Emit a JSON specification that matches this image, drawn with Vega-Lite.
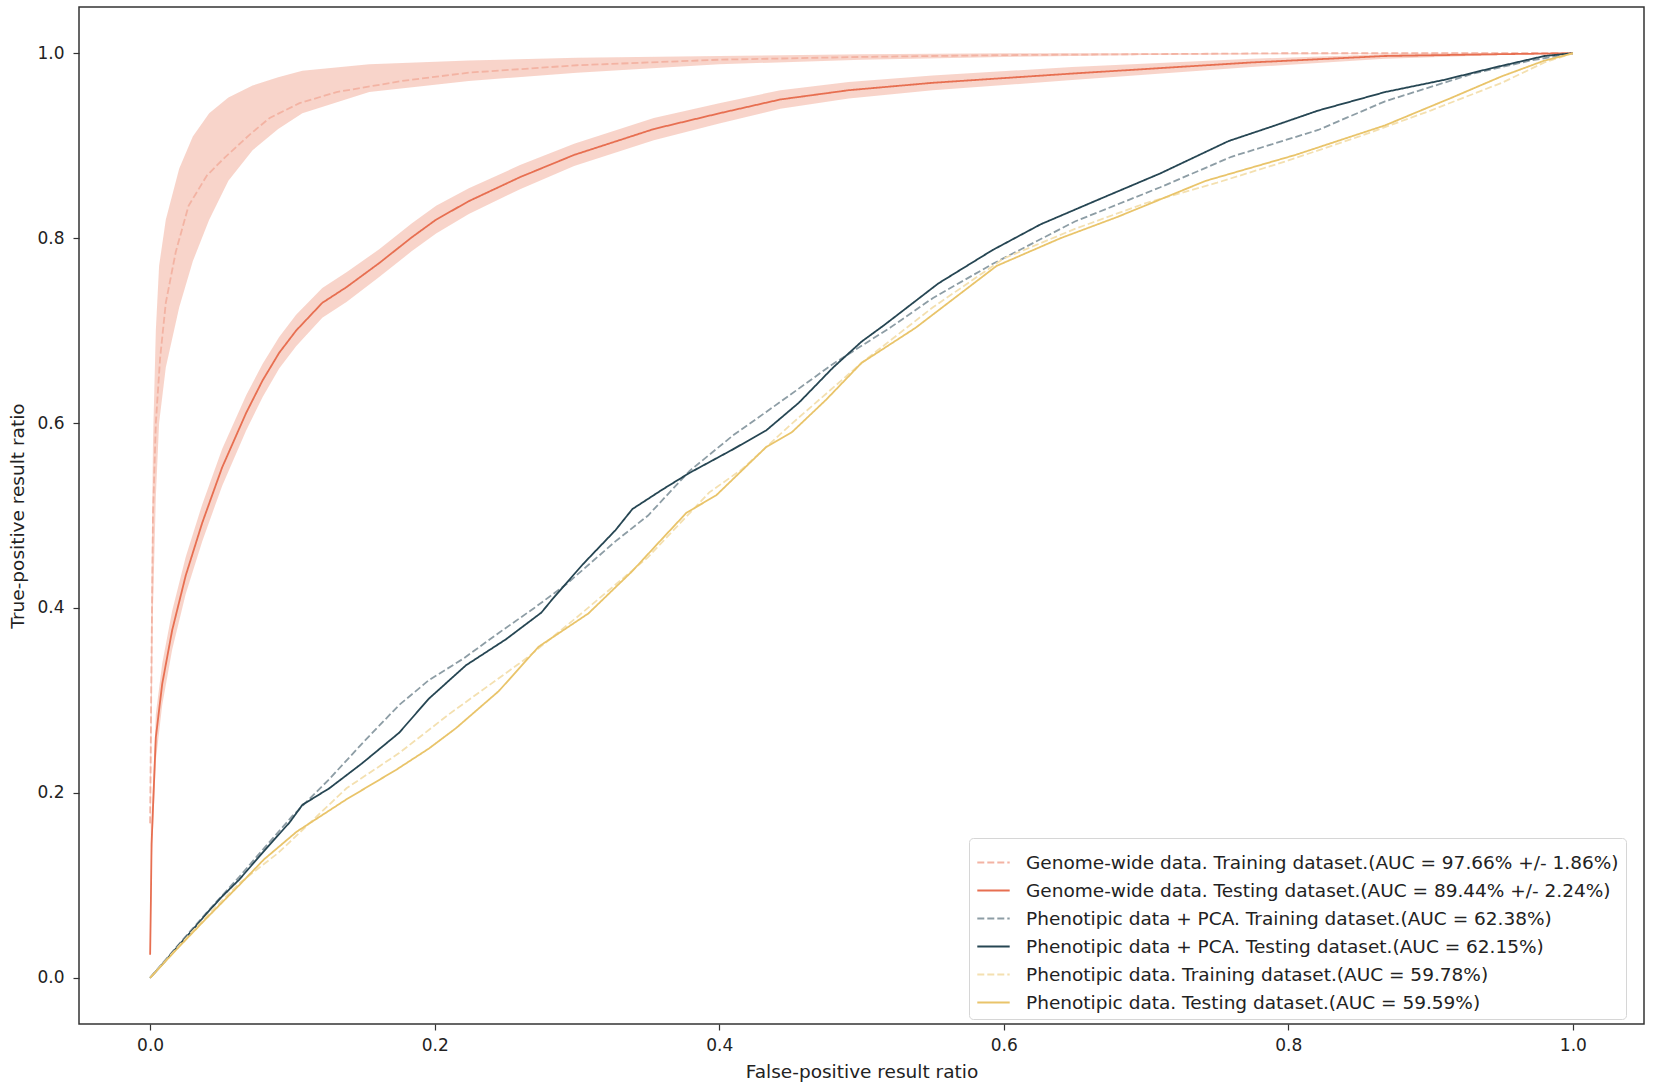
{
  "$schema": "https://vega.github.io/schema/vega-lite/v6.json",
  "width": 1565,
  "height": 1017,
  "autosize": {"type": "none"},
  "padding": {"left": 79, "top": 7, "right": 10, "bottom": 65},
  "background": "white",
  "datasets": {
    "band": [
      {"model": "train", "fpr": 0, "lo": 0.14, "hi": 0.2},
      {"model": "train", "fpr": 0.001, "lo": 0.27, "hi": 0.43},
      {"model": "train", "fpr": 0.002, "lo": 0.4, "hi": 0.58},
      {"model": "train", "fpr": 0.004, "lo": 0.52, "hi": 0.7},
      {"model": "train", "fpr": 0.0063, "lo": 0.6, "hi": 0.77},
      {"model": "train", "fpr": 0.011, "lo": 0.66, "hi": 0.82},
      {"model": "train", "fpr": 0.0204, "lo": 0.725, "hi": 0.875},
      {"model": "train", "fpr": 0.03, "lo": 0.775, "hi": 0.91},
      {"model": "train", "fpr": 0.0415, "lo": 0.82, "hi": 0.935},
      {"model": "train", "fpr": 0.055, "lo": 0.862, "hi": 0.952},
      {"model": "train", "fpr": 0.072, "lo": 0.895, "hi": 0.965},
      {"model": "train", "fpr": 0.09, "lo": 0.918, "hi": 0.974},
      {"model": "train", "fpr": 0.107, "lo": 0.935, "hi": 0.981},
      {"model": "train", "fpr": 0.154, "lo": 0.958, "hi": 0.988},
      {"model": "train", "fpr": 0.224, "lo": 0.97, "hi": 0.992},
      {"model": "train", "fpr": 0.3, "lo": 0.979, "hi": 0.995},
      {"model": "train", "fpr": 0.4, "lo": 0.988, "hi": 0.997},
      {"model": "train", "fpr": 0.5, "lo": 0.993, "hi": 0.999},
      {"model": "train", "fpr": 0.6, "lo": 0.996, "hi": 1},
      {"model": "train", "fpr": 0.7, "lo": 0.998, "hi": 1},
      {"model": "train", "fpr": 0.8, "lo": 0.999, "hi": 1},
      {"model": "train", "fpr": 1, "lo": 1, "hi": 1},
      {"model": "test", "fpr": 0, "lo": 0.02, "hi": 0.03},
      {"model": "test", "fpr": 0.0005, "lo": 0.06, "hi": 0.1},
      {"model": "test", "fpr": 0.001, "lo": 0.12, "hi": 0.17},
      {"model": "test", "fpr": 0.004, "lo": 0.235, "hi": 0.285},
      {"model": "test", "fpr": 0.0085, "lo": 0.295, "hi": 0.34},
      {"model": "test", "fpr": 0.0155, "lo": 0.355, "hi": 0.397},
      {"model": "test", "fpr": 0.025, "lo": 0.415, "hi": 0.455},
      {"model": "test", "fpr": 0.0366, "lo": 0.472, "hi": 0.512},
      {"model": "test", "fpr": 0.0506, "lo": 0.532, "hi": 0.572},
      {"model": "test", "fpr": 0.0675, "lo": 0.592, "hi": 0.63},
      {"model": "test", "fpr": 0.079, "lo": 0.628, "hi": 0.664},
      {"model": "test", "fpr": 0.0907, "lo": 0.659, "hi": 0.693},
      {"model": "test", "fpr": 0.1026, "lo": 0.683, "hi": 0.717},
      {"model": "test", "fpr": 0.121, "lo": 0.714, "hi": 0.746},
      {"model": "test", "fpr": 0.138, "lo": 0.731, "hi": 0.763},
      {"model": "test", "fpr": 0.161, "lo": 0.758, "hi": 0.788},
      {"model": "test", "fpr": 0.184, "lo": 0.786, "hi": 0.816},
      {"model": "test", "fpr": 0.201, "lo": 0.805, "hi": 0.835},
      {"model": "test", "fpr": 0.224, "lo": 0.826, "hi": 0.854},
      {"model": "test", "fpr": 0.26, "lo": 0.853, "hi": 0.879},
      {"model": "test", "fpr": 0.298, "lo": 0.878, "hi": 0.902},
      {"model": "test", "fpr": 0.354, "lo": 0.906, "hi": 0.93},
      {"model": "test", "fpr": 0.4, "lo": 0.924, "hi": 0.946},
      {"model": "test", "fpr": 0.443, "lo": 0.94, "hi": 0.96},
      {"model": "test", "fpr": 0.491, "lo": 0.951, "hi": 0.969},
      {"model": "test", "fpr": 0.55, "lo": 0.96, "hi": 0.976},
      {"model": "test", "fpr": 0.648, "lo": 0.971, "hi": 0.985},
      {"model": "test", "fpr": 0.774, "lo": 0.985, "hi": 0.994},
      {"model": "test", "fpr": 0.868, "lo": 0.994, "hi": 0.999},
      {"model": "test", "fpr": 0.95, "lo": 0.998, "hi": 1},
      {"model": "test", "fpr": 1, "lo": 1, "hi": 1}
    ],
    "roc": [
      {"model": "Genome-wide data. Training dataset.(AUC = 97.66% +/- 1.86%)", "fpr": 0, "tpr": 0.167},
      {"model": "Genome-wide data. Training dataset.(AUC = 97.66% +/- 1.86%)", "fpr": 0.001, "tpr": 0.35},
      {"model": "Genome-wide data. Training dataset.(AUC = 97.66% +/- 1.86%)", "fpr": 0.002, "tpr": 0.5},
      {"model": "Genome-wide data. Training dataset.(AUC = 97.66% +/- 1.86%)", "fpr": 0.004, "tpr": 0.6},
      {"model": "Genome-wide data. Training dataset.(AUC = 97.66% +/- 1.86%)", "fpr": 0.007, "tpr": 0.67},
      {"model": "Genome-wide data. Training dataset.(AUC = 97.66% +/- 1.86%)", "fpr": 0.011, "tpr": 0.73},
      {"model": "Genome-wide data. Training dataset.(AUC = 97.66% +/- 1.86%)", "fpr": 0.018, "tpr": 0.785},
      {"model": "Genome-wide data. Training dataset.(AUC = 97.66% +/- 1.86%)", "fpr": 0.027, "tpr": 0.835},
      {"model": "Genome-wide data. Training dataset.(AUC = 97.66% +/- 1.86%)", "fpr": 0.04, "tpr": 0.868},
      {"model": "Genome-wide data. Training dataset.(AUC = 97.66% +/- 1.86%)", "fpr": 0.053, "tpr": 0.888},
      {"model": "Genome-wide data. Training dataset.(AUC = 97.66% +/- 1.86%)", "fpr": 0.07, "tpr": 0.912},
      {"model": "Genome-wide data. Training dataset.(AUC = 97.66% +/- 1.86%)", "fpr": 0.084, "tpr": 0.93},
      {"model": "Genome-wide data. Training dataset.(AUC = 97.66% +/- 1.86%)", "fpr": 0.105, "tpr": 0.946},
      {"model": "Genome-wide data. Training dataset.(AUC = 97.66% +/- 1.86%)", "fpr": 0.131, "tpr": 0.958},
      {"model": "Genome-wide data. Training dataset.(AUC = 97.66% +/- 1.86%)", "fpr": 0.177, "tpr": 0.97},
      {"model": "Genome-wide data. Training dataset.(AUC = 97.66% +/- 1.86%)", "fpr": 0.224, "tpr": 0.979},
      {"model": "Genome-wide data. Training dataset.(AUC = 97.66% +/- 1.86%)", "fpr": 0.3, "tpr": 0.987},
      {"model": "Genome-wide data. Training dataset.(AUC = 97.66% +/- 1.86%)", "fpr": 0.4, "tpr": 0.993},
      {"model": "Genome-wide data. Training dataset.(AUC = 97.66% +/- 1.86%)", "fpr": 0.5, "tpr": 0.996},
      {"model": "Genome-wide data. Training dataset.(AUC = 97.66% +/- 1.86%)", "fpr": 0.6, "tpr": 0.998},
      {"model": "Genome-wide data. Training dataset.(AUC = 97.66% +/- 1.86%)", "fpr": 0.7, "tpr": 0.999},
      {"model": "Genome-wide data. Training dataset.(AUC = 97.66% +/- 1.86%)", "fpr": 0.8, "tpr": 1},
      {"model": "Genome-wide data. Training dataset.(AUC = 97.66% +/- 1.86%)", "fpr": 1, "tpr": 1},

      {"model": "Genome-wide data. Testing dataset.(AUC = 89.44% +/- 2.24%)", "fpr": 0, "tpr": 0.025},
      {"model": "Genome-wide data. Testing dataset.(AUC = 89.44% +/- 2.24%)", "fpr": 0.0005, "tpr": 0.08},
      {"model": "Genome-wide data. Testing dataset.(AUC = 89.44% +/- 2.24%)", "fpr": 0.001, "tpr": 0.145},
      {"model": "Genome-wide data. Testing dataset.(AUC = 89.44% +/- 2.24%)", "fpr": 0.004, "tpr": 0.26},
      {"model": "Genome-wide data. Testing dataset.(AUC = 89.44% +/- 2.24%)", "fpr": 0.0085, "tpr": 0.318},
      {"model": "Genome-wide data. Testing dataset.(AUC = 89.44% +/- 2.24%)", "fpr": 0.0155, "tpr": 0.376},
      {"model": "Genome-wide data. Testing dataset.(AUC = 89.44% +/- 2.24%)", "fpr": 0.025, "tpr": 0.435},
      {"model": "Genome-wide data. Testing dataset.(AUC = 89.44% +/- 2.24%)", "fpr": 0.0366, "tpr": 0.492},
      {"model": "Genome-wide data. Testing dataset.(AUC = 89.44% +/- 2.24%)", "fpr": 0.0506, "tpr": 0.552},
      {"model": "Genome-wide data. Testing dataset.(AUC = 89.44% +/- 2.24%)", "fpr": 0.0675, "tpr": 0.611},
      {"model": "Genome-wide data. Testing dataset.(AUC = 89.44% +/- 2.24%)", "fpr": 0.079, "tpr": 0.646},
      {"model": "Genome-wide data. Testing dataset.(AUC = 89.44% +/- 2.24%)", "fpr": 0.0907, "tpr": 0.676},
      {"model": "Genome-wide data. Testing dataset.(AUC = 89.44% +/- 2.24%)", "fpr": 0.1026, "tpr": 0.7},
      {"model": "Genome-wide data. Testing dataset.(AUC = 89.44% +/- 2.24%)", "fpr": 0.121, "tpr": 0.73},
      {"model": "Genome-wide data. Testing dataset.(AUC = 89.44% +/- 2.24%)", "fpr": 0.138, "tpr": 0.747},
      {"model": "Genome-wide data. Testing dataset.(AUC = 89.44% +/- 2.24%)", "fpr": 0.161, "tpr": 0.773},
      {"model": "Genome-wide data. Testing dataset.(AUC = 89.44% +/- 2.24%)", "fpr": 0.184, "tpr": 0.801},
      {"model": "Genome-wide data. Testing dataset.(AUC = 89.44% +/- 2.24%)", "fpr": 0.201, "tpr": 0.82},
      {"model": "Genome-wide data. Testing dataset.(AUC = 89.44% +/- 2.24%)", "fpr": 0.224, "tpr": 0.84},
      {"model": "Genome-wide data. Testing dataset.(AUC = 89.44% +/- 2.24%)", "fpr": 0.26, "tpr": 0.866},
      {"model": "Genome-wide data. Testing dataset.(AUC = 89.44% +/- 2.24%)", "fpr": 0.298, "tpr": 0.89},
      {"model": "Genome-wide data. Testing dataset.(AUC = 89.44% +/- 2.24%)", "fpr": 0.354, "tpr": 0.918},
      {"model": "Genome-wide data. Testing dataset.(AUC = 89.44% +/- 2.24%)", "fpr": 0.4, "tpr": 0.935},
      {"model": "Genome-wide data. Testing dataset.(AUC = 89.44% +/- 2.24%)", "fpr": 0.443, "tpr": 0.95},
      {"model": "Genome-wide data. Testing dataset.(AUC = 89.44% +/- 2.24%)", "fpr": 0.491, "tpr": 0.96},
      {"model": "Genome-wide data. Testing dataset.(AUC = 89.44% +/- 2.24%)", "fpr": 0.55, "tpr": 0.968},
      {"model": "Genome-wide data. Testing dataset.(AUC = 89.44% +/- 2.24%)", "fpr": 0.648, "tpr": 0.978},
      {"model": "Genome-wide data. Testing dataset.(AUC = 89.44% +/- 2.24%)", "fpr": 0.774, "tpr": 0.99},
      {"model": "Genome-wide data. Testing dataset.(AUC = 89.44% +/- 2.24%)", "fpr": 0.868, "tpr": 0.997},
      {"model": "Genome-wide data. Testing dataset.(AUC = 89.44% +/- 2.24%)", "fpr": 0.95, "tpr": 0.999},
      {"model": "Genome-wide data. Testing dataset.(AUC = 89.44% +/- 2.24%)", "fpr": 1, "tpr": 1},

      {"model": "Phenotipic data + PCA. Training dataset.(AUC = 62.38%)", "fpr": 0, "tpr": 0},
      {"model": "Phenotipic data + PCA. Training dataset.(AUC = 62.38%)", "fpr": 0.02, "tpr": 0.036},
      {"model": "Phenotipic data + PCA. Training dataset.(AUC = 62.38%)", "fpr": 0.04, "tpr": 0.071},
      {"model": "Phenotipic data + PCA. Training dataset.(AUC = 62.38%)", "fpr": 0.0625, "tpr": 0.109},
      {"model": "Phenotipic data + PCA. Training dataset.(AUC = 62.38%)", "fpr": 0.08, "tpr": 0.14},
      {"model": "Phenotipic data + PCA. Training dataset.(AUC = 62.38%)", "fpr": 0.1, "tpr": 0.175},
      {"model": "Phenotipic data + PCA. Training dataset.(AUC = 62.38%)", "fpr": 0.126, "tpr": 0.215},
      {"model": "Phenotipic data + PCA. Training dataset.(AUC = 62.38%)", "fpr": 0.15, "tpr": 0.255},
      {"model": "Phenotipic data + PCA. Training dataset.(AUC = 62.38%)", "fpr": 0.175, "tpr": 0.295},
      {"model": "Phenotipic data + PCA. Training dataset.(AUC = 62.38%)", "fpr": 0.196, "tpr": 0.322},
      {"model": "Phenotipic data + PCA. Training dataset.(AUC = 62.38%)", "fpr": 0.22, "tpr": 0.345},
      {"model": "Phenotipic data + PCA. Training dataset.(AUC = 62.38%)", "fpr": 0.245, "tpr": 0.373},
      {"model": "Phenotipic data + PCA. Training dataset.(AUC = 62.38%)", "fpr": 0.27, "tpr": 0.4},
      {"model": "Phenotipic data + PCA. Training dataset.(AUC = 62.38%)", "fpr": 0.292, "tpr": 0.425},
      {"model": "Phenotipic data + PCA. Training dataset.(AUC = 62.38%)", "fpr": 0.327, "tpr": 0.472},
      {"model": "Phenotipic data + PCA. Training dataset.(AUC = 62.38%)", "fpr": 0.35, "tpr": 0.5},
      {"model": "Phenotipic data + PCA. Training dataset.(AUC = 62.38%)", "fpr": 0.379, "tpr": 0.548},
      {"model": "Phenotipic data + PCA. Training dataset.(AUC = 62.38%)", "fpr": 0.41, "tpr": 0.587},
      {"model": "Phenotipic data + PCA. Training dataset.(AUC = 62.38%)", "fpr": 0.444, "tpr": 0.624},
      {"model": "Phenotipic data + PCA. Training dataset.(AUC = 62.38%)", "fpr": 0.48, "tpr": 0.664},
      {"model": "Phenotipic data + PCA. Training dataset.(AUC = 62.38%)", "fpr": 0.52, "tpr": 0.703},
      {"model": "Phenotipic data + PCA. Training dataset.(AUC = 62.38%)", "fpr": 0.55, "tpr": 0.735},
      {"model": "Phenotipic data + PCA. Training dataset.(AUC = 62.38%)", "fpr": 0.592, "tpr": 0.772},
      {"model": "Phenotipic data + PCA. Training dataset.(AUC = 62.38%)", "fpr": 0.65, "tpr": 0.818},
      {"model": "Phenotipic data + PCA. Training dataset.(AUC = 62.38%)", "fpr": 0.71, "tpr": 0.855},
      {"model": "Phenotipic data + PCA. Training dataset.(AUC = 62.38%)", "fpr": 0.76, "tpr": 0.888},
      {"model": "Phenotipic data + PCA. Training dataset.(AUC = 62.38%)", "fpr": 0.821, "tpr": 0.917},
      {"model": "Phenotipic data + PCA. Training dataset.(AUC = 62.38%)", "fpr": 0.868, "tpr": 0.948},
      {"model": "Phenotipic data + PCA. Training dataset.(AUC = 62.38%)", "fpr": 0.93, "tpr": 0.978},
      {"model": "Phenotipic data + PCA. Training dataset.(AUC = 62.38%)", "fpr": 0.97, "tpr": 0.992},
      {"model": "Phenotipic data + PCA. Training dataset.(AUC = 62.38%)", "fpr": 1, "tpr": 1},

      {"model": "Phenotipic data + PCA. Testing dataset.(AUC = 62.15%)", "fpr": 0, "tpr": 0},
      {"model": "Phenotipic data + PCA. Testing dataset.(AUC = 62.15%)", "fpr": 0.01, "tpr": 0.017},
      {"model": "Phenotipic data + PCA. Testing dataset.(AUC = 62.15%)", "fpr": 0.02, "tpr": 0.035},
      {"model": "Phenotipic data + PCA. Testing dataset.(AUC = 62.15%)", "fpr": 0.03, "tpr": 0.052},
      {"model": "Phenotipic data + PCA. Testing dataset.(AUC = 62.15%)", "fpr": 0.04, "tpr": 0.07},
      {"model": "Phenotipic data + PCA. Testing dataset.(AUC = 62.15%)", "fpr": 0.05, "tpr": 0.087},
      {"model": "Phenotipic data + PCA. Testing dataset.(AUC = 62.15%)", "fpr": 0.0625, "tpr": 0.106},
      {"model": "Phenotipic data + PCA. Testing dataset.(AUC = 62.15%)", "fpr": 0.08, "tpr": 0.137},
      {"model": "Phenotipic data + PCA. Testing dataset.(AUC = 62.15%)", "fpr": 0.098, "tpr": 0.168},
      {"model": "Phenotipic data + PCA. Testing dataset.(AUC = 62.15%)", "fpr": 0.107, "tpr": 0.187},
      {"model": "Phenotipic data + PCA. Testing dataset.(AUC = 62.15%)", "fpr": 0.126, "tpr": 0.205},
      {"model": "Phenotipic data + PCA. Testing dataset.(AUC = 62.15%)", "fpr": 0.149, "tpr": 0.232},
      {"model": "Phenotipic data + PCA. Testing dataset.(AUC = 62.15%)", "fpr": 0.175, "tpr": 0.265},
      {"model": "Phenotipic data + PCA. Testing dataset.(AUC = 62.15%)", "fpr": 0.196, "tpr": 0.302},
      {"model": "Phenotipic data + PCA. Testing dataset.(AUC = 62.15%)", "fpr": 0.222, "tpr": 0.338},
      {"model": "Phenotipic data + PCA. Testing dataset.(AUC = 62.15%)", "fpr": 0.25, "tpr": 0.366},
      {"model": "Phenotipic data + PCA. Testing dataset.(AUC = 62.15%)", "fpr": 0.275, "tpr": 0.395},
      {"model": "Phenotipic data + PCA. Testing dataset.(AUC = 62.15%)", "fpr": 0.283, "tpr": 0.41},
      {"model": "Phenotipic data + PCA. Testing dataset.(AUC = 62.15%)", "fpr": 0.304, "tpr": 0.447},
      {"model": "Phenotipic data + PCA. Testing dataset.(AUC = 62.15%)", "fpr": 0.327, "tpr": 0.484},
      {"model": "Phenotipic data + PCA. Testing dataset.(AUC = 62.15%)", "fpr": 0.339, "tpr": 0.507},
      {"model": "Phenotipic data + PCA. Testing dataset.(AUC = 62.15%)", "fpr": 0.36, "tpr": 0.528},
      {"model": "Phenotipic data + PCA. Testing dataset.(AUC = 62.15%)", "fpr": 0.379, "tpr": 0.546},
      {"model": "Phenotipic data + PCA. Testing dataset.(AUC = 62.15%)", "fpr": 0.409, "tpr": 0.571},
      {"model": "Phenotipic data + PCA. Testing dataset.(AUC = 62.15%)", "fpr": 0.433, "tpr": 0.592},
      {"model": "Phenotipic data + PCA. Testing dataset.(AUC = 62.15%)", "fpr": 0.456, "tpr": 0.622},
      {"model": "Phenotipic data + PCA. Testing dataset.(AUC = 62.15%)", "fpr": 0.48, "tpr": 0.66},
      {"model": "Phenotipic data + PCA. Testing dataset.(AUC = 62.15%)", "fpr": 0.5, "tpr": 0.688},
      {"model": "Phenotipic data + PCA. Testing dataset.(AUC = 62.15%)", "fpr": 0.516, "tpr": 0.706},
      {"model": "Phenotipic data + PCA. Testing dataset.(AUC = 62.15%)", "fpr": 0.554, "tpr": 0.751},
      {"model": "Phenotipic data + PCA. Testing dataset.(AUC = 62.15%)", "fpr": 0.592, "tpr": 0.787},
      {"model": "Phenotipic data + PCA. Testing dataset.(AUC = 62.15%)", "fpr": 0.626, "tpr": 0.815},
      {"model": "Phenotipic data + PCA. Testing dataset.(AUC = 62.15%)", "fpr": 0.667, "tpr": 0.842},
      {"model": "Phenotipic data + PCA. Testing dataset.(AUC = 62.15%)", "fpr": 0.71, "tpr": 0.87},
      {"model": "Phenotipic data + PCA. Testing dataset.(AUC = 62.15%)", "fpr": 0.758, "tpr": 0.905},
      {"model": "Phenotipic data + PCA. Testing dataset.(AUC = 62.15%)", "fpr": 0.789, "tpr": 0.921},
      {"model": "Phenotipic data + PCA. Testing dataset.(AUC = 62.15%)", "fpr": 0.821, "tpr": 0.938},
      {"model": "Phenotipic data + PCA. Testing dataset.(AUC = 62.15%)", "fpr": 0.868, "tpr": 0.958},
      {"model": "Phenotipic data + PCA. Testing dataset.(AUC = 62.15%)", "fpr": 0.909, "tpr": 0.971},
      {"model": "Phenotipic data + PCA. Testing dataset.(AUC = 62.15%)", "fpr": 0.946, "tpr": 0.985},
      {"model": "Phenotipic data + PCA. Testing dataset.(AUC = 62.15%)", "fpr": 0.98, "tpr": 0.997},
      {"model": "Phenotipic data + PCA. Testing dataset.(AUC = 62.15%)", "fpr": 1, "tpr": 1},

      {"model": "Phenotipic data. Training dataset.(AUC = 59.78%)", "fpr": 0, "tpr": 0},
      {"model": "Phenotipic data. Training dataset.(AUC = 59.78%)", "fpr": 0.02, "tpr": 0.034},
      {"model": "Phenotipic data. Training dataset.(AUC = 59.78%)", "fpr": 0.04, "tpr": 0.067},
      {"model": "Phenotipic data. Training dataset.(AUC = 59.78%)", "fpr": 0.0625, "tpr": 0.102},
      {"model": "Phenotipic data. Training dataset.(AUC = 59.78%)", "fpr": 0.09, "tpr": 0.135},
      {"model": "Phenotipic data. Training dataset.(AUC = 59.78%)", "fpr": 0.138, "tpr": 0.205},
      {"model": "Phenotipic data. Training dataset.(AUC = 59.78%)", "fpr": 0.175, "tpr": 0.243},
      {"model": "Phenotipic data. Training dataset.(AUC = 59.78%)", "fpr": 0.21, "tpr": 0.285},
      {"model": "Phenotipic data. Training dataset.(AUC = 59.78%)", "fpr": 0.264, "tpr": 0.345},
      {"model": "Phenotipic data. Training dataset.(AUC = 59.78%)", "fpr": 0.3, "tpr": 0.39},
      {"model": "Phenotipic data. Training dataset.(AUC = 59.78%)", "fpr": 0.35, "tpr": 0.455},
      {"model": "Phenotipic data. Training dataset.(AUC = 59.78%)", "fpr": 0.393, "tpr": 0.525},
      {"model": "Phenotipic data. Training dataset.(AUC = 59.78%)", "fpr": 0.416, "tpr": 0.55},
      {"model": "Phenotipic data. Training dataset.(AUC = 59.78%)", "fpr": 0.45, "tpr": 0.598},
      {"model": "Phenotipic data. Training dataset.(AUC = 59.78%)", "fpr": 0.5, "tpr": 0.665},
      {"model": "Phenotipic data. Training dataset.(AUC = 59.78%)", "fpr": 0.55, "tpr": 0.725},
      {"model": "Phenotipic data. Training dataset.(AUC = 59.78%)", "fpr": 0.6, "tpr": 0.778},
      {"model": "Phenotipic data. Training dataset.(AUC = 59.78%)", "fpr": 0.65, "tpr": 0.81},
      {"model": "Phenotipic data. Training dataset.(AUC = 59.78%)", "fpr": 0.7, "tpr": 0.838},
      {"model": "Phenotipic data. Training dataset.(AUC = 59.78%)", "fpr": 0.75, "tpr": 0.86},
      {"model": "Phenotipic data. Training dataset.(AUC = 59.78%)", "fpr": 0.8, "tpr": 0.884},
      {"model": "Phenotipic data. Training dataset.(AUC = 59.78%)", "fpr": 0.85, "tpr": 0.91},
      {"model": "Phenotipic data. Training dataset.(AUC = 59.78%)", "fpr": 0.9, "tpr": 0.938},
      {"model": "Phenotipic data. Training dataset.(AUC = 59.78%)", "fpr": 0.95, "tpr": 0.968},
      {"model": "Phenotipic data. Training dataset.(AUC = 59.78%)", "fpr": 0.98, "tpr": 0.99},
      {"model": "Phenotipic data. Training dataset.(AUC = 59.78%)", "fpr": 1, "tpr": 1},

      {"model": "Phenotipic data. Testing dataset.(AUC = 59.59%)", "fpr": 0, "tpr": 0},
      {"model": "Phenotipic data. Testing dataset.(AUC = 59.59%)", "fpr": 0.02, "tpr": 0.033},
      {"model": "Phenotipic data. Testing dataset.(AUC = 59.59%)", "fpr": 0.04, "tpr": 0.065},
      {"model": "Phenotipic data. Testing dataset.(AUC = 59.59%)", "fpr": 0.0625, "tpr": 0.1},
      {"model": "Phenotipic data. Testing dataset.(AUC = 59.59%)", "fpr": 0.08, "tpr": 0.128},
      {"model": "Phenotipic data. Testing dataset.(AUC = 59.59%)", "fpr": 0.103, "tpr": 0.158},
      {"model": "Phenotipic data. Testing dataset.(AUC = 59.59%)", "fpr": 0.138, "tpr": 0.193},
      {"model": "Phenotipic data. Testing dataset.(AUC = 59.59%)", "fpr": 0.173, "tpr": 0.225},
      {"model": "Phenotipic data. Testing dataset.(AUC = 59.59%)", "fpr": 0.196, "tpr": 0.248},
      {"model": "Phenotipic data. Testing dataset.(AUC = 59.59%)", "fpr": 0.215, "tpr": 0.27},
      {"model": "Phenotipic data. Testing dataset.(AUC = 59.59%)", "fpr": 0.245, "tpr": 0.31},
      {"model": "Phenotipic data. Testing dataset.(AUC = 59.59%)", "fpr": 0.273, "tpr": 0.358},
      {"model": "Phenotipic data. Testing dataset.(AUC = 59.59%)", "fpr": 0.308, "tpr": 0.394},
      {"model": "Phenotipic data. Testing dataset.(AUC = 59.59%)", "fpr": 0.339, "tpr": 0.44},
      {"model": "Phenotipic data. Testing dataset.(AUC = 59.59%)", "fpr": 0.36, "tpr": 0.475},
      {"model": "Phenotipic data. Testing dataset.(AUC = 59.59%)", "fpr": 0.377, "tpr": 0.503},
      {"model": "Phenotipic data. Testing dataset.(AUC = 59.59%)", "fpr": 0.398, "tpr": 0.522},
      {"model": "Phenotipic data. Testing dataset.(AUC = 59.59%)", "fpr": 0.433, "tpr": 0.574},
      {"model": "Phenotipic data. Testing dataset.(AUC = 59.59%)", "fpr": 0.451, "tpr": 0.59},
      {"model": "Phenotipic data. Testing dataset.(AUC = 59.59%)", "fpr": 0.475, "tpr": 0.625},
      {"model": "Phenotipic data. Testing dataset.(AUC = 59.59%)", "fpr": 0.5, "tpr": 0.665},
      {"model": "Phenotipic data. Testing dataset.(AUC = 59.59%)", "fpr": 0.538, "tpr": 0.703},
      {"model": "Phenotipic data. Testing dataset.(AUC = 59.59%)", "fpr": 0.595, "tpr": 0.77},
      {"model": "Phenotipic data. Testing dataset.(AUC = 59.59%)", "fpr": 0.64, "tpr": 0.8},
      {"model": "Phenotipic data. Testing dataset.(AUC = 59.59%)", "fpr": 0.68, "tpr": 0.823},
      {"model": "Phenotipic data. Testing dataset.(AUC = 59.59%)", "fpr": 0.742, "tpr": 0.862},
      {"model": "Phenotipic data. Testing dataset.(AUC = 59.59%)", "fpr": 0.805, "tpr": 0.89},
      {"model": "Phenotipic data. Testing dataset.(AUC = 59.59%)", "fpr": 0.868, "tpr": 0.922},
      {"model": "Phenotipic data. Testing dataset.(AUC = 59.59%)", "fpr": 0.915, "tpr": 0.952},
      {"model": "Phenotipic data. Testing dataset.(AUC = 59.59%)", "fpr": 0.95, "tpr": 0.975},
      {"model": "Phenotipic data. Testing dataset.(AUC = 59.59%)", "fpr": 0.98, "tpr": 0.992},
      {"model": "Phenotipic data. Testing dataset.(AUC = 59.59%)", "fpr": 1, "tpr": 1}
    ]
  },
  "layer": [
    {
      "data": {"name": "band"},
      "mark": {"type": "area", "color": "#e76f51", "opacity": 0.3},
      "encoding": {
        "x": {"field": "fpr", "type": "quantitative", "scale": {"domain": [-0.05, 1.05], "nice": false, "zero": false},
              "axis": {"values": [0, 0.2, 0.4, 0.6, 0.8, 1], "format": ".1f", "title": "False-positive result ratio", "labelPadding": 7, "titlePadding": 9}},
        "y": {"field": "lo", "type": "quantitative", "scale": {"domain": [-0.05, 1.05], "nice": false, "zero": false},
              "axis": {"values": [0, 0.2, 0.4, 0.6, 0.8, 1], "format": ".1f", "title": "True-positive result ratio", "labelPadding": 9, "titlePadding": 9}},
        "y2": {"field": "hi"},
        "detail": {"field": "model", "type": "nominal"}
      }
    },
    {
      "data": {"name": "roc"},
      "mark": {"type": "line", "strokeWidth": 1.8},
      "encoding": {
        "x": {"field": "fpr", "type": "quantitative"},
        "y": {"field": "tpr", "type": "quantitative"},
        "order": {"field": "fpr", "type": "quantitative"},
        "color": {
          "field": "model", "type": "nominal", "title": null,
          "scale": {
            "domain": [
              "Genome-wide data. Training dataset.(AUC = 97.66% +/- 1.86%)",
              "Genome-wide data. Testing dataset.(AUC = 89.44% +/- 2.24%)",
              "Phenotipic data + PCA. Training dataset.(AUC = 62.38%)",
              "Phenotipic data + PCA. Testing dataset.(AUC = 62.15%)",
              "Phenotipic data. Training dataset.(AUC = 59.78%)",
              "Phenotipic data. Testing dataset.(AUC = 59.59%)"
            ],
            "range": ["#f3b3a3", "#e76f51", "#8d9da5", "#264653", "#f4e0b0", "#e9c46a"]
          }
        },
        "strokeDash": {
          "field": "model", "type": "nominal", "title": null,
          "scale": {
            "domain": [
              "Genome-wide data. Training dataset.(AUC = 97.66% +/- 1.86%)",
              "Genome-wide data. Testing dataset.(AUC = 89.44% +/- 2.24%)",
              "Phenotipic data + PCA. Training dataset.(AUC = 62.38%)",
              "Phenotipic data + PCA. Testing dataset.(AUC = 62.15%)",
              "Phenotipic data. Training dataset.(AUC = 59.78%)",
              "Phenotipic data. Testing dataset.(AUC = 59.59%)"
            ],
            "range": [[7, 3], [1, 0], [7, 3], [1, 0], [7, 3], [1, 0]]
          }
        }
      }
    }
  ],
  "config": {
    "view": {"stroke": "#333333", "strokeWidth": 1.5},
    "axis": {
      "grid": false, "domain": false,
      "tickColor": "#333333", "tickSize": 6, "tickWidth": 1.2,
      "labelFont": "DejaVu Sans", "labelFontSize": 17, "labelColor": "#222222",
      "titleFont": "DejaVu Sans", "titleFontSize": 18.5, "titleFontWeight": "normal", "titleColor": "#222222"
    },
    "legend": {
      "orient": "none", "legendX": 890, "legendY": 831,
      "symbolType": "stroke", "symbolSize": 1050, "symbolStrokeWidth": 2,
      "labelFont": "DejaVu Sans", "labelFontSize": 18.5, "labelColor": "#222222", "labelLimit": 0,
      "labelOffset": 15, "rowPadding": 1,
      "fillColor": "white", "strokeColor": "#d6d6d6", "cornerRadius": 4, "padding": 7
    }
  }
}
